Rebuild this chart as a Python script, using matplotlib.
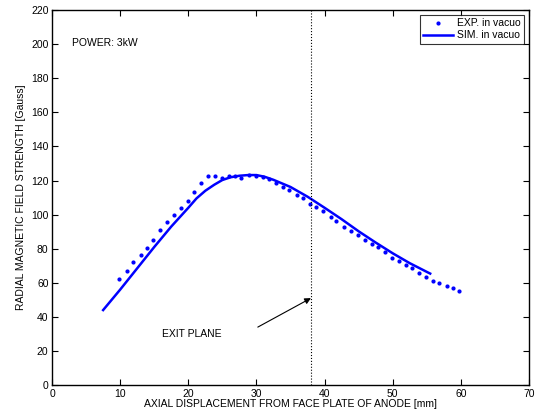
import numpy as np
import matplotlib.pyplot as plt

plt.rcParams['font.family'] = ['Liberation Sans', 'DejaVu Sans']

exp_x = [9.9, 11.0, 11.9, 13.0, 14.0, 14.8, 15.9, 16.9, 17.9, 19.0, 19.9, 20.8,
         21.8, 22.9, 23.9, 25.0, 25.9, 26.9, 27.8, 28.9, 29.9, 30.9, 31.8, 32.9,
         33.9, 34.8, 35.9, 36.9, 37.9, 38.8, 39.8, 40.9, 41.7, 42.9, 43.9, 44.9,
         45.9, 46.9, 47.9, 48.8, 49.9, 50.9, 51.9, 52.9, 53.8, 54.9, 55.9, 56.8,
         57.9, 58.9, 59.8]
exp_y = [62.0, 66.9, 72.0, 76.1, 80.2, 85.2, 91.1, 95.4, 99.5, 103.6, 107.9, 113.0,
         118.7, 122.4, 122.4, 121.6, 122.4, 122.6, 121.4, 123.2, 122.4, 121.8, 120.6, 118.7,
         116.3, 114.5, 111.3, 109.7, 106.3, 104.6, 101.9, 98.7, 96.0, 92.9, 90.3, 87.8,
         85.2, 82.9, 80.9, 77.8, 74.3, 72.7, 70.2, 68.4, 65.9, 63.3, 60.8, 59.8,
         58.2, 56.9, 55.1]

# Simulation (solid line)
sim_x = [7.5, 10, 12.5, 15, 17.5, 20, 21.2, 22.5, 23.8, 25, 26.2, 27.5, 28.8, 30,
         31.2, 32.5, 35, 37.5, 40, 42.5, 45, 47.5, 50, 52.5, 55, 55.5]
sim_y = [44, 56, 68.5, 81, 93, 104, 109.5, 114, 117.5, 120.3, 121.9, 122.8, 123.2, 123.2,
         122.2, 120.4, 116.2, 110.5, 104, 97.3, 90.2, 83.6, 77.3, 71.5, 66.4, 65.4]

exit_plane = 38.0

fig = plt.figure(figsize=(5.42, 4.19), dpi=100)
ax = fig.add_axes([0.096, 0.081, 0.88, 0.895])

ax.plot(exp_x, exp_y, '.', color='#0000ff', markersize=4, label='EXP. in vacuo')
ax.plot(sim_x, sim_y, '-', color='#0000ff', linewidth=1.8, label='SIM. in vacuo')
ax.axvline(exit_plane, color='black', linestyle=':', linewidth=0.8)

ax.annotate('', xy=(exit_plane, 51), xytext=(30.2, 34),
            arrowprops=dict(arrowstyle='-|>', color='black', lw=0.8,
                            mutation_scale=9, shrinkA=0, shrinkB=0))
ax.text(16.2, 30, 'EXIT PLANE', fontsize=7.5, va='center')
ax.text(2.9, 200.4, 'POWER: 3kW', fontsize=7.5, va='center')

ax.set_xlim(0, 70)
ax.set_ylim(0, 220)
ax.set_xticks(np.arange(0, 71, 10))
ax.set_yticks(np.arange(0, 221, 20))
ax.tick_params(direction='in', top=True, right=True, labelsize=7.5, length=4, pad=2.5)
for s in ax.spines.values():
    s.set_linewidth(1.0)

ax.set_xlabel('AXIAL DISPLACEMENT FROM FACE PLATE OF ANODE [mm]', fontsize=7.5, labelpad=0)
ax.set_ylabel('RADIAL MAGNETIC FIELD STRENGTH [Gauss]', fontsize=7.5, labelpad=4)

leg = ax.legend(loc='upper right', fontsize=7.5, frameon=True, fancybox=False,
                edgecolor='black', borderpad=0.3, handlelength=2.9,
                handletextpad=0.4, labelspacing=0.2, borderaxespad=0.5,
                markerscale=1.0)
leg.get_frame().set_linewidth(0.8)

fig.savefig('out.png', dpi=100)
